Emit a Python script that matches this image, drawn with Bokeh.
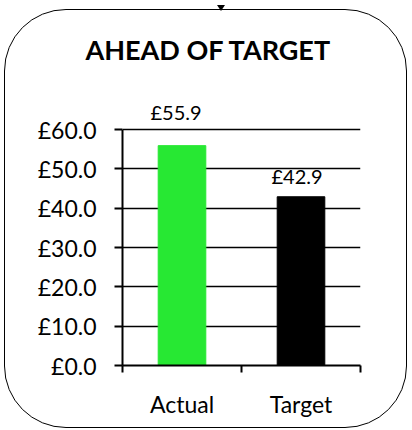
from bokeh.plotting import figure
from bokeh.models import Range1d, FixedTicker, ColumnDataSource, Div
from bokeh.layouts import column
from bokeh.core.properties import value
from bokeh.embed import file_html
from bokeh.resources import INLINE

# ---- data ----
categories = ["Actual", "Target"]
amounts = [55.9, 42.9]
amount_labels = ["£55.9", "£42.9"]
bar_colors = ["#27E833", "#000000"]
y_ticks = [0, 10, 20, 30, 40, 50, 60]
y_tick_labels = ["£0.0", "£10.0", "£20.0", "£30.0", "£40.0", "£50.0", "£60.0"]
title_text = "AHEAD OF TARGET"

# ---- styling (not data) ----
FONT = "Lato"
label_dx = [-6, -4]
label_dy = [-34, -21]

xs = [i + 0.5 for i in range(len(categories))]
boundaries = list(range(len(categories) + 1))

source = ColumnDataSource(dict(
    x=xs, top=amounts, color=bar_colors, label=amount_labels,
    dx=label_dx, dy=label_dy,
))

p = figure(
    width=403, height=419,
    output_backend="svg", toolbar_location=None,
    x_range=Range1d(boundaries[0], boundaries[-1]),
    y_range=Range1d(0, 72.46),
    min_border_left=117, min_border_right=48,
    min_border_top=70, min_border_bottom=64,
    outline_line_color=None,
    background_fill_alpha=0, border_fill_alpha=0,
    title=title_text,
)
p.styles = {
    "border": "1px solid black",
    "border-radius": "62px",
    "margin-left": "4px",
    "margin-top": "9px",
}

p.title.align = "left"
p.title.offset = -37
p.title.standoff = 30
p.title.text_font = FONT
p.title.text_font_size = "27px"
p.title.text_font_style = "bold"
p.title.text_color = "black"

# bars
p.vbar(x="x", top="top", bottom=0, width=0.4, color="color", source=source)

# value labels
p.text(x="x", y="top", text="label", x_offset="dx", y_offset="dy",
       text_align="center", text_baseline="alphabetic",
       text_font=value(FONT), text_font_size="20px", text_color="black",
       source=source)

# y axis
p.yaxis.ticker = FixedTicker(ticks=y_ticks)
p.yaxis.major_label_overrides = dict(zip(y_ticks, y_tick_labels))
p.yaxis.bounds = (y_ticks[0], y_ticks[-1])
p.yaxis.axis_line_color = "black"
p.yaxis.axis_line_width = 2
p.yaxis.major_tick_line_color = "black"
p.yaxis.major_tick_line_width = 2
p.yaxis.major_tick_out = 8
p.yaxis.major_tick_in = 0
p.yaxis.minor_tick_out = 0
p.yaxis.minor_tick_in = 0
p.yaxis.major_label_standoff = 18
p.yaxis.major_label_text_font = FONT
p.yaxis.major_label_text_font_size = "23px"
p.yaxis.major_label_text_color = "black"

# x axis
p.xaxis.ticker = FixedTicker(ticks=xs, minor_ticks=boundaries)
p.xaxis.major_label_overrides = dict(zip(xs, categories))
p.xaxis.axis_line_color = "black"
p.xaxis.axis_line_width = 2
p.xaxis.major_tick_out = 0
p.xaxis.major_tick_in = 0
p.xaxis.minor_tick_out = 7
p.xaxis.minor_tick_in = 0
p.xaxis.minor_tick_line_color = "black"
p.xaxis.minor_tick_line_width = 2
p.xaxis.major_label_standoff = 17
p.xaxis.major_label_text_font = FONT
p.xaxis.major_label_text_font_size = "23px"
p.xaxis.major_label_text_color = "black"

# grid
p.xgrid.visible = False
p.ygrid.ticker = FixedTicker(ticks=y_ticks)
p.ygrid.grid_line_color = "black"
p.ygrid.grid_line_width = 1.5

# small connector arrowhead above the rounded frame (taken out of the flow)
arrow = Div(text="", width=8, height=6, styles={
    "background-color": "black",
    "clip-path": "polygon(0 0, 100% 0, 50% 100%)",
    "position": "absolute",
    "top": "0px",
    "left": "212px",
})

layout = column(p, arrow, spacing=0)

open("out.html", "w").write(file_html(layout, INLINE))
